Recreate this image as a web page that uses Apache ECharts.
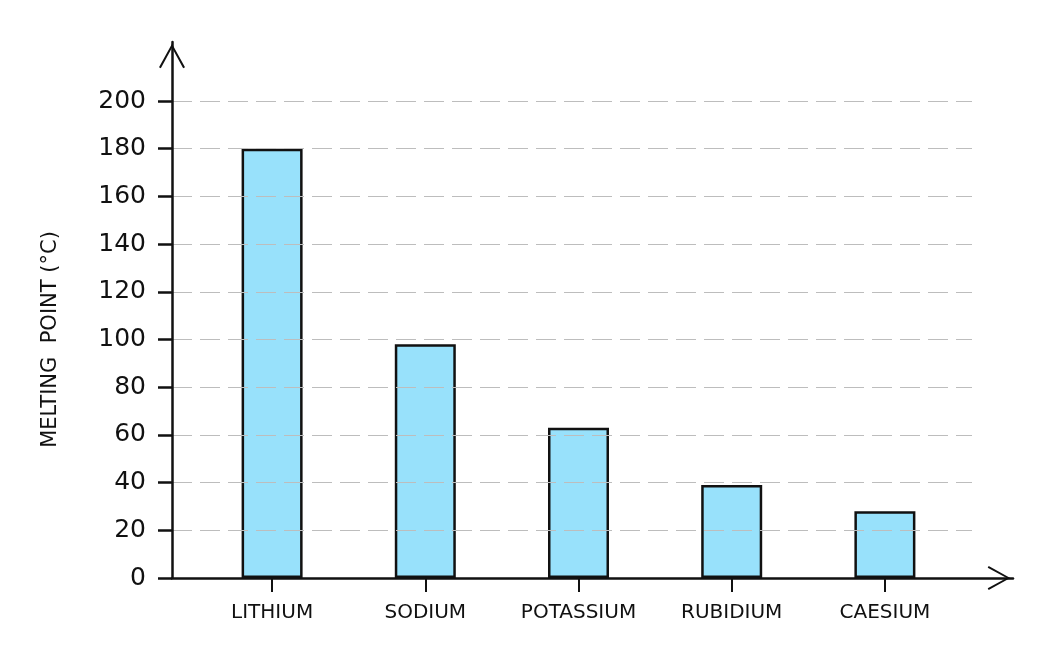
<!DOCTYPE html>
<html>
<head>
<meta charset="utf-8">
<script src="https://cdn.jsdelivr.net/npm/echarts@6/dist/echarts.min.js"></script>
<style>
  html, body { margin: 0; padding: 0; background: #fff; }
  #chart { width: 1054px; height: 662px; }
</style>
</head>
<body>
<div id="chart"></div>
<script>
// chart data
var metals = ['LITHIUM', 'SODIUM', 'POTASSIUM', 'RUBIDIUM', 'CAESIUM'];
var meltingPoints = [180, 98, 63, 39, 28];
var yTicks = { min: 0, max: 200, step: 20 };
var yName = 'MELTING  POINT (°C)';

var FONT = '"DejaVu Sans", sans-serif';
var INK = '#111';
// open chevron, tip pointing along the axis
var ARROW = 'path://M10,0 L20,18 L18.6,18.8 L10,3 L1.4,18.8 L0,18 Z';

var chart = echarts.init(document.getElementById('chart'));

chart.setOption({
    animation: false,
    backgroundColor: '#fff',
    grid: [
        // frame: just the two arrowed axis lines
        { left: 172, right: 41, top: 42, bottom: 84 },
        // value scale + dashed gridlines
        { left: 172, right: 82, top: 101, bottom: 84 },
        // bars
        { left: 195.5, right: 92.5, top: 101, bottom: 84 }
    ],
    xAxis: [
        {
            gridIndex: 0, type: 'value', min: 0, max: 1, z: 5,
            axisLine: { show: true, symbol: ['none', ARROW], symbolSize: [24, 28], symbolOffset: [0, -14],
                        lineStyle: { color: INK, width: 2.5 } },
            axisTick: { show: false }, axisLabel: { show: false }, splitLine: { show: false }
        },
        {
            gridIndex: 1, type: 'value', min: 0, max: 1, show: false
        },
        {
            gridIndex: 2, type: 'category', data: metals,
            axisLine: { show: false },
            axisTick: { show: true, interval: 0, alignWithLabel: true, length: 14, lineStyle: { color: INK, width: 2 } },
            axisLabel: { interval: 0, hideOverlap: false, margin: 25, color: INK, fontFamily: FONT, fontSize: 20 }
        }
    ],
    yAxis: [
        {
            gridIndex: 0, type: 'value', min: 0, max: 1, z: 5,
            axisLine: { show: true, symbol: ['none', ARROW], symbolSize: [26, 28], symbolOffset: [0, -14],
                        lineStyle: { color: INK, width: 2.5 } },
            axisTick: { show: false }, axisLabel: { show: false }, splitLine: { show: false }
        },
        {
            gridIndex: 1, type: 'value', z: 3,
            min: yTicks.min, max: yTicks.max, interval: yTicks.step,
            name: yName, nameLocation: 'middle', nameGap: 111, nameRotate: 90,
            nameTextStyle: { color: INK, fontFamily: FONT, fontSize: 21 },
            axisLine: { show: false },
            axisTick: { show: true, length: 14, lineStyle: { color: INK, width: 2.5 } },
            axisLabel: { margin: 26, color: INK, fontFamily: FONT, fontSize: 25 },
            splitLine: { show: true, lineStyle: { color: '#bdbdbd', width: 1, type: [20, 8] } }
        },
        {
            gridIndex: 2, type: 'value', min: yTicks.min, max: yTicks.max, show: false
        }
    ],
    series: [
        {
            type: 'bar',
            xAxisIndex: 2,
            yAxisIndex: 2,
            data: meltingPoints,
            barWidth: 61,
            itemStyle: { color: '#98e1fb', borderColor: INK, borderWidth: 2.5 }
        }
    ]
});
</script>
</body>
</html>
